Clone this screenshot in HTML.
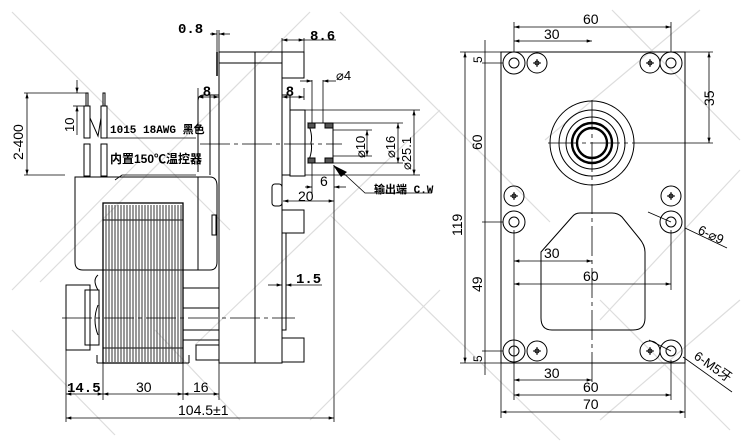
<!DOCTYPE html>
<html><head><meta charset="utf-8"><style>
html,body{margin:0;padding:0;background:#fff;width:750px;height:442px;overflow:hidden}
svg{display:block}
text{font-family:"Liberation Sans","Noto Sans CJK SC",sans-serif;fill:#000}
.m{font-family:"Liberation Mono","Noto Sans CJK SC",monospace}
</style></head><body>
<svg width="750" height="442" viewBox="0 0 750 442" xmlns="http://www.w3.org/2000/svg">
<defs>
<marker id="a" viewBox="0 0 10 6" refX="10" refY="3" markerWidth="7" markerHeight="4" orient="auto-start-reverse"><path d="M0,0L10,3L0,6z" fill="#000"/></marker>
</defs>
<g stroke="#ddd" stroke-width="1.2">
<line x1="12" y1="12" x2="230" y2="230"/><line x1="12" y1="290" x2="140" y2="160"/>
<line x1="340" y1="12" x2="550" y2="222"/><line x1="310" y1="12" x2="40" y2="282"/>
<line x1="12" y1="330" x2="115" y2="435"/><line x1="330" y1="215" x2="560" y2="440"/>
<line x1="440" y1="110" x2="195" y2="345"/><line x1="612" y1="10" x2="740" y2="140"/>
<line x1="700" y1="10" x2="545" y2="140"/><line x1="740" y1="300" x2="600" y2="420"/>
<line x1="440" y1="290" x2="310" y2="420"/><line x1="740" y1="170" x2="600" y2="320"/>
<line x1="600" y1="300" x2="730" y2="430"/><line x1="155" y1="330" x2="240" y2="420"/>
</g>
<g fill="none" stroke="#000" stroke-width="1">
<rect x="219" y="52" width="63" height="311"/>
<line x1="255" y1="52" x2="255" y2="363"/>
<line x1="219" y1="63" x2="282" y2="63"/>
<line x1="217" y1="52" x2="217" y2="76" stroke-width="1.5"/>
<rect x="282" y="52" width="22" height="26"/>
<rect x="282" y="338" width="22" height="24"/>
<path d="M219,95 H204 Q198,95 198,101 V172"/>
<line x1="210" y1="95" x2="210" y2="175"/>
<path d="M282,95 H290 V175 H282"/>
<rect x="290" y="110" width="15" height="66"/>
<path d="M308,123 H333 V163 H308 Q313,150 311,143 Q313,135 308,123z"/>
<rect x="308" y="123" width="7" height="5" fill="#555"/>
<rect x="325" y="123" width="8" height="5" fill="#555"/>
<rect x="308" y="158" width="7" height="5" fill="#555"/>
<rect x="325" y="158" width="8" height="5" fill="#555"/>
<line x1="282" y1="182" x2="282" y2="363"/>
<rect x="272" y="184" width="10" height="22" rx="3"/>
<rect x="282" y="210" width="22" height="23"/>
<rect x="282" y="233" width="4" height="97"/>
<path d="M75,177 H210 Q217,177 217,186 V262 Q217,270 210,270 H83 Q75,270 75,262z"/>
<line x1="198" y1="177" x2="198" y2="270"/>
<rect x="212" y="215" width="4" height="20"/>
<rect x="103" y="203" width="80" height="160" stroke-width="1.3"/>
<line x1="103" y1="220" x2="183" y2="220"/>
<line x1="103" y1="348" x2="183" y2="348"/>
<line x1="97" y1="363" x2="189" y2="363"/>
<path d="M97,355 V363 M189,355 V363"/>
<rect x="66" y="285" width="24" height="65"/>
<rect x="85" y="290" width="14" height="55"/>
<path d="M98,275 Q92,280 98,290 M98,305 Q92,320 98,335"/>
<rect x="183" y="288" width="36" height="20"/>
<rect x="183" y="330" width="36" height="10"/>
<rect x="196" y="345" width="23" height="15"/>
<rect x="84" y="106" width="6" height="32"/><rect x="86" y="93" width="2" height="13"/>
<rect x="101" y="106" width="6" height="32"/><rect x="103" y="93" width="2" height="13"/>
<rect x="84" y="144" width="6" height="32"/><rect x="101" y="144" width="6" height="32"/>
<path d="M90,118 L98,136 L101,118"/>
</g>
<g stroke="#333" stroke-width="1">
<path d="M106,205V362M109,205V362M112,205V362M115,205V362M118,205V362M121,205V362M124,205V362M127,205V362M130,205V362M133,205V362M136,205V362M139,205V362M142,205V362M145,205V362M148,205V362M151,205V362M154,205V362M157,205V362M160,205V362M163,205V362M166,205V362M169,205V362M172,205V362M175,205V362M178,205V362M181,205V362"/>
</g>
<g stroke="#000" stroke-width="0.8" stroke-dasharray="30,4,4,4">
<line x1="200" y1="144" x2="342" y2="144"/>
<line x1="62" y1="318" x2="295" y2="318"/>
<line x1="592" y1="100" x2="592" y2="390"/>
<line x1="548" y1="143" x2="636" y2="143"/>
</g>
<g stroke="#000" stroke-width="0.8" fill="none">
<line x1="27" y1="93" x2="27" y2="175" marker-start="url(#a)" marker-end="url(#a)"/>
<line x1="24" y1="93" x2="86" y2="93"/><line x1="24" y1="175" x2="65" y2="175"/>
<line x1="77" y1="80" x2="77" y2="93" marker-end="url(#a)"/>
<line x1="77" y1="106" x2="77" y2="135" marker-start="url(#a)"/>
<line x1="73" y1="106" x2="86" y2="106"/>
<line x1="107" y1="138" x2="196" y2="138"/>
<path d="M196,175 H122 L115,180"/>
<line x1="66" y1="350" x2="66" y2="422"/><line x1="103" y1="363" x2="103" y2="400"/>
<line x1="183" y1="363" x2="183" y2="400"/><line x1="219" y1="363" x2="219" y2="400"/>
<line x1="334" y1="165" x2="334" y2="422"/>
<line x1="66" y1="394" x2="103" y2="394" marker-start="url(#a)" marker-end="url(#a)"/>
<line x1="103" y1="394" x2="183" y2="394" marker-start="url(#a)" marker-end="url(#a)"/>
<line x1="183" y1="394" x2="219" y2="394" marker-start="url(#a)" marker-end="url(#a)"/>
<line x1="66" y1="418" x2="334" y2="418" marker-start="url(#a)" marker-end="url(#a)"/>
<line x1="198" y1="97" x2="219" y2="97" marker-start="url(#a)" marker-end="url(#a)"/>
<line x1="198" y1="88" x2="198" y2="100"/>
<line x1="282" y1="97" x2="304" y2="97" marker-start="url(#a)" marker-end="url(#a)"/>
<line x1="304" y1="88" x2="304" y2="100"/>
<line x1="282" y1="38" x2="282" y2="52"/><line x1="304" y1="38" x2="304" y2="52"/>
<line x1="282" y1="40" x2="304" y2="40" marker-start="url(#a)" marker-end="url(#a)"/>
<line x1="304" y1="40" x2="336" y2="40"/>
<line x1="210" y1="34" x2="217" y2="34" marker-end="url(#a)"/>
<line x1="219" y1="34" x2="230" y2="34" marker-start="url(#a)"/>
<line x1="217" y1="30" x2="217" y2="52"/><line x1="219" y1="30" x2="219" y2="52"/>
<line x1="312" y1="80" x2="312" y2="123"/><line x1="323" y1="80" x2="323" y2="123"/>
<line x1="300" y1="81" x2="312" y2="81" marker-end="url(#a)"/>
<line x1="323" y1="81" x2="336" y2="81" marker-start="url(#a)"/>
<line x1="305" y1="110" x2="420" y2="110"/><line x1="333" y1="123" x2="403" y2="123"/>
<line x1="333" y1="130" x2="372" y2="130"/><line x1="333" y1="156" x2="372" y2="156"/>
<line x1="333" y1="163" x2="403" y2="163"/><line x1="305" y1="175" x2="420" y2="175"/>
<line x1="367" y1="130" x2="367" y2="156" marker-start="url(#a)" marker-end="url(#a)"/>
<line x1="398" y1="123" x2="398" y2="163" marker-start="url(#a)" marker-end="url(#a)"/>
<line x1="414" y1="110" x2="414" y2="175" marker-start="url(#a)" marker-end="url(#a)"/>
<line x1="312" y1="163" x2="312" y2="195"/>
<line x1="305" y1="187" x2="312" y2="187" marker-end="url(#a)"/>
<line x1="334" y1="187" x2="346" y2="187" marker-start="url(#a)"/>
<line x1="283" y1="201" x2="334" y2="201" marker-start="url(#a)" marker-end="url(#a)"/>
<path d="M432,193 H365 L340,170"/>
<line x1="268" y1="285" x2="282" y2="285" marker-end="url(#a)"/>
<line x1="286" y1="285" x2="322" y2="285" marker-start="url(#a)"/>
</g>
<path d="M333,165 L347,172 L341,177z" fill="#000"/>
<g font-size="14">
<text x="178" y="33" class="m" font-weight="bold">0.8</text>
<text x="310" y="40" class="m" font-weight="bold">8.6</text>
<text x="203" y="96" font-weight="bold">8</text><text x="286" y="96" font-weight="bold">8</text>
<text x="336" y="80" font-size="13">⌀4</text>
<text x="320" y="186">6</text><text x="298" y="201">20</text>
<text x="296" y="283" class="m" font-weight="bold">1.5</text>
<text x="67" y="392" class="m" font-weight="bold">14.5</text><text x="136" y="392">30</text><text x="193" y="392">16</text>
<text x="178" y="415">104.5±1</text>
<text x="374" y="193" font-size="11" class="m" font-weight="bold">输出端 C.W</text>
<text x="110" y="133" font-size="11" class="m" font-weight="bold">1015 18AWG 黑色</text>
<text x="110" y="163" font-size="12" font-weight="bold">内置150℃温控器</text>
<text transform="translate(23,160) rotate(-90)">2-400</text>
<text transform="translate(74,132) rotate(-90)" font-size="13">10</text>
<text transform="translate(365,158) rotate(-90)" font-size="13">⌀10</text>
<text transform="translate(395,158) rotate(-90)" font-size="13">⌀16</text>
<text transform="translate(411,170) rotate(-90)" font-size="13">⌀25.1</text>
</g>
<g fill="none" stroke="#000" stroke-width="1">
<rect x="501" y="52" width="184" height="311"/>
<circle cx="592" cy="143" r="42"/><circle cx="592" cy="143" r="33"/>
<circle cx="592" cy="143" r="26"/><circle cx="592" cy="143" r="20" stroke-width="2.4"/>
<circle cx="592" cy="143" r="15" stroke-width="2.4"/>
<path d="M541,252 L572,217 Q575,213 580,213 H612 Q618,213 622,217 L639,238 Q645,245 645,252 V318 Q645,330 633,330 H552 Q541,330 541,318z"/>
<g id="h">
<circle cx="514" cy="63" r="11"/><circle cx="514" cy="63" r="5"/>
</g>
<use href="#h" x="157"/><use href="#h" y="159"/><use href="#h" x="157" y="159"/>
<use href="#h" y="288"/><use href="#h" x="157" y="288"/>
<g id="s"><circle cx="537" cy="63" r="10"/><path d="M533,63h8M537,59v8"/><circle cx="537" cy="63" r="2"/></g>
<use href="#s" x="113"/><use href="#s" y="288"/><use href="#s" x="113" y="288"/>
<use href="#s" x="-23" y="133"/><use href="#s" x="134" y="133"/>
</g>
<g stroke="#000" stroke-width="0.8" fill="none">
<line x1="514" y1="22" x2="514" y2="52"/><line x1="671" y1="22" x2="671" y2="52"/>
<line x1="514" y1="27" x2="671" y2="27" marker-start="url(#a)" marker-end="url(#a)"/>
<line x1="514" y1="41" x2="592" y2="41" marker-start="url(#a)" marker-end="url(#a)"/>
<line x1="685" y1="52" x2="713" y2="52"/><line x1="636" y1="143" x2="713" y2="143"/>
<line x1="709" y1="52" x2="709" y2="143" marker-start="url(#a)" marker-end="url(#a)"/>
<line x1="460" y1="52" x2="501" y2="52"/><line x1="460" y1="363" x2="501" y2="363"/>
<line x1="465" y1="52" x2="465" y2="363" marker-start="url(#a)" marker-end="url(#a)"/>
<line x1="485" y1="40" x2="485" y2="375"/>
<line x1="482" y1="63" x2="503" y2="63"/><line x1="482" y1="222" x2="503" y2="222"/><line x1="482" y1="351" x2="503" y2="351"/>
<line x1="514" y1="230" x2="514" y2="400"/><line x1="671" y1="230" x2="671" y2="290"/><line x1="671" y1="360" x2="671" y2="400"/>
<line x1="514" y1="261" x2="592" y2="261" marker-start="url(#a)" marker-end="url(#a)"/>
<line x1="514" y1="284" x2="671" y2="284" marker-start="url(#a)" marker-end="url(#a)"/>
<line x1="514" y1="380" x2="592" y2="380" marker-start="url(#a)" marker-end="url(#a)"/>
<line x1="514" y1="395" x2="671" y2="395" marker-start="url(#a)" marker-end="url(#a)"/>
<line x1="501" y1="363" x2="501" y2="418"/><line x1="685" y1="363" x2="685" y2="418"/>
<line x1="501" y1="412" x2="685" y2="412" marker-start="url(#a)" marker-end="url(#a)"/>
<path d="M648,212 L671,222 M685,228 L727,248"/>
<path d="M649,340 L671,351 M683,357 L732,392"/>
</g>
<g font-size="14">
<text x="583" y="24">60</text><text x="544" y="39">30</text>
<text x="544" y="258">30</text><text x="583" y="281">60</text>
<text x="544" y="378">30</text><text x="583" y="392">60</text><text x="583" y="409">70</text>
<text transform="translate(714,106) rotate(-90)">35</text>
<text transform="translate(462,236) rotate(-90)">119</text>
<text transform="translate(482,150) rotate(-90)">60</text>
<text transform="translate(482,292) rotate(-90)">49</text>
<text transform="translate(482,63) rotate(-90)" font-size="12">5</text>
<text transform="translate(482,362) rotate(-90)" font-size="12">5</text>
<text transform="translate(697,233) rotate(25)" font-size="13">6-⌀9</text>
<text transform="translate(693,358) rotate(35)" font-size="13">6-M5牙</text>
</g>
</svg>
</body></html>
